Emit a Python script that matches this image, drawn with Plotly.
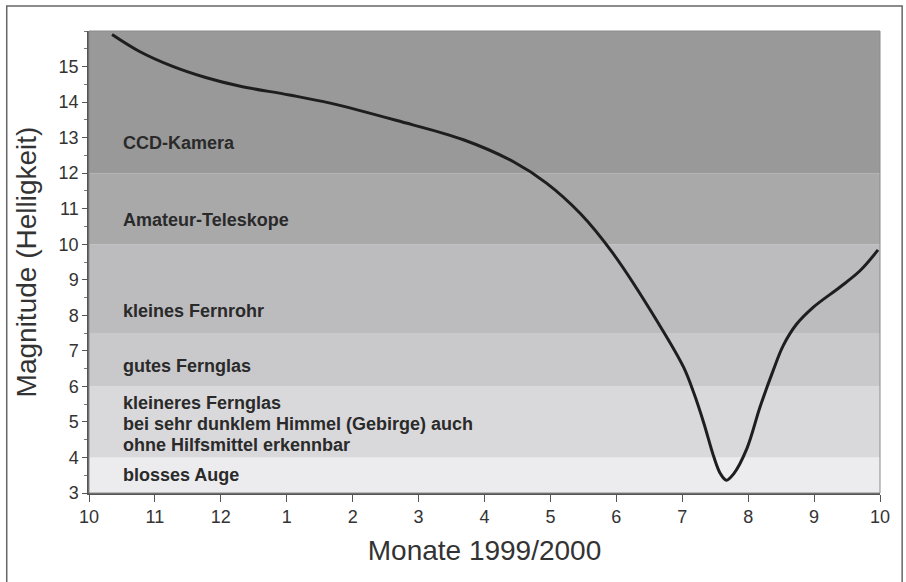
import plotly.graph_objects as go

# ---- data ----
month_ticks = [0, 1, 2, 3, 4, 5, 6, 7, 8, 9, 10, 11, 12]
month_labels = ["10", "11", "12", "1", "2", "3", "4", "5", "6", "7", "8", "9", "10"]
mag_ticks = [3, 4, 5, 6, 7, 8, 9, 10, 11, 12, 13, 14, 15]

curve_x = [0.35, 0.76, 1.26, 1.77, 2.28, 3.04, 3.66, 4.67, 5.68, 6.44, 6.94, 7.45,
           7.95, 8.64, 9.02, 9.18, 9.33, 9.48, 9.58, 9.67, 9.78, 9.98, 10.18, 10.38,
           10.53, 10.73, 10.99, 11.39, 11.7, 11.97]
curve_y = [15.9, 15.43, 15.01, 14.69, 14.45, 14.2, 13.97, 13.48, 12.94, 12.32, 11.72,
           10.87, 9.74, 7.77, 6.54, 5.79, 4.95, 4.01, 3.54, 3.36, 3.54, 4.25, 5.42,
           6.45, 7.14, 7.74, 8.23, 8.79, 9.26, 9.84]

band_lower = [3, 4, 6, 7.5, 10, 12]
band_upper = [4, 6, 7.5, 10, 12, 16]
band_colors = ["#ececee", "#d9d9db", "#c9c9cb", "#bcbcbe", "#a9a9aa", "#999999"]

label_lines = ["CCD-Kamera", "Amateur-Teleskope", "kleines Fernrohr", "gutes Fernglas",
               "kleineres Fernglas", "bei sehr dunklem Himmel (Gebirge) auch",
               "ohne Hilfsmittel erkennbar", "blosses Auge"]
label_y = [12.86, 10.67, 8.13, 6.57, 5.52, 4.94, 4.36, 3.5]
label_x = 0.48

FONT = "Liberation Sans, Arial, Helvetica, sans-serif"

fig = go.Figure()

shapes = []
for lo, hi, c in zip(band_lower, band_upper, band_colors):
    shapes.append(dict(type="rect", xref="x", yref="y", x0=0, x1=12, y0=lo, y1=hi,
                       fillcolor=c, line=dict(width=0), layer="below"))
# plot frame (top / right)
shapes.append(dict(type="rect", xref="paper", yref="paper", x0=0, x1=1, y0=0, y1=1,
                   line=dict(color="#8a8a8a", width=1), fillcolor="rgba(0,0,0,0)"))
# outer page frame
shapes.append(dict(type="rect", xref="paper", yref="paper", x0=-0.104, x1=1.028,
                   y0=-0.25, y1=1.054, line=dict(color="#666666", width=1.5),
                   fillcolor="rgba(0,0,0,0)"))

fig.add_trace(go.Scatter(x=curve_x, y=curve_y, mode="lines",
                         line=dict(color="#1e1e1e", width=3, shape="spline", smoothing=1.0),
                         showlegend=False, hoverinfo="skip"))

annotations = []
for t, yv in zip(label_lines, label_y):
    annotations.append(dict(x=label_x, y=yv, xref="x", yref="y", text=t, showarrow=False,
                            xanchor="left", yanchor="middle",
                            font=dict(family=FONT, size=18, color="#2a2a2a", weight="bold")))

fig.update_layout(
    width=906, height=582,
    margin=dict(l=89, r=26, t=31, b=89, autoexpand=False),
    paper_bgcolor="white", plot_bgcolor="white",
    shapes=shapes, annotations=annotations,
    font=dict(family=FONT, color="#333333"),
    xaxis=dict(range=[0, 12], tickmode="array", tickvals=month_ticks, ticktext=month_labels,
               ticks="outside", ticklen=7, tickcolor="#555555", showgrid=False, zeroline=False,
               showline=True, linecolor="#555555", linewidth=1.5, automargin=False,
               tickfont=dict(family=FONT, size=18, color="#333333"),
               title=dict(text="Monate 1999/2000", standoff=14,
                          font=dict(family=FONT, size=28, color="#333333"))),
    yaxis=dict(range=[3, 16], tickmode="array", tickvals=mag_ticks,
               ticks="outside", ticklen=5, tickcolor="#555555", showgrid=False, zeroline=False,
               showline=True, linecolor="#555555", linewidth=1.5, automargin=False,
               minor=dict(ticks="outside", ticklen=3, dtick=0.5, tick0=3,
                          tickcolor="#777777", showgrid=False),
               tickfont=dict(family=FONT, size=18, color="#333333"),
               title=dict(text="Magnitude (Helligkeit)", standoff=14,
                          font=dict(family=FONT, size=28, color="#333333"))),
)

fig.write_html("out.html", config={"displayModeBar": False},
               post_script="document.body.style.margin='0';document.body.style.overflow='hidden';")
